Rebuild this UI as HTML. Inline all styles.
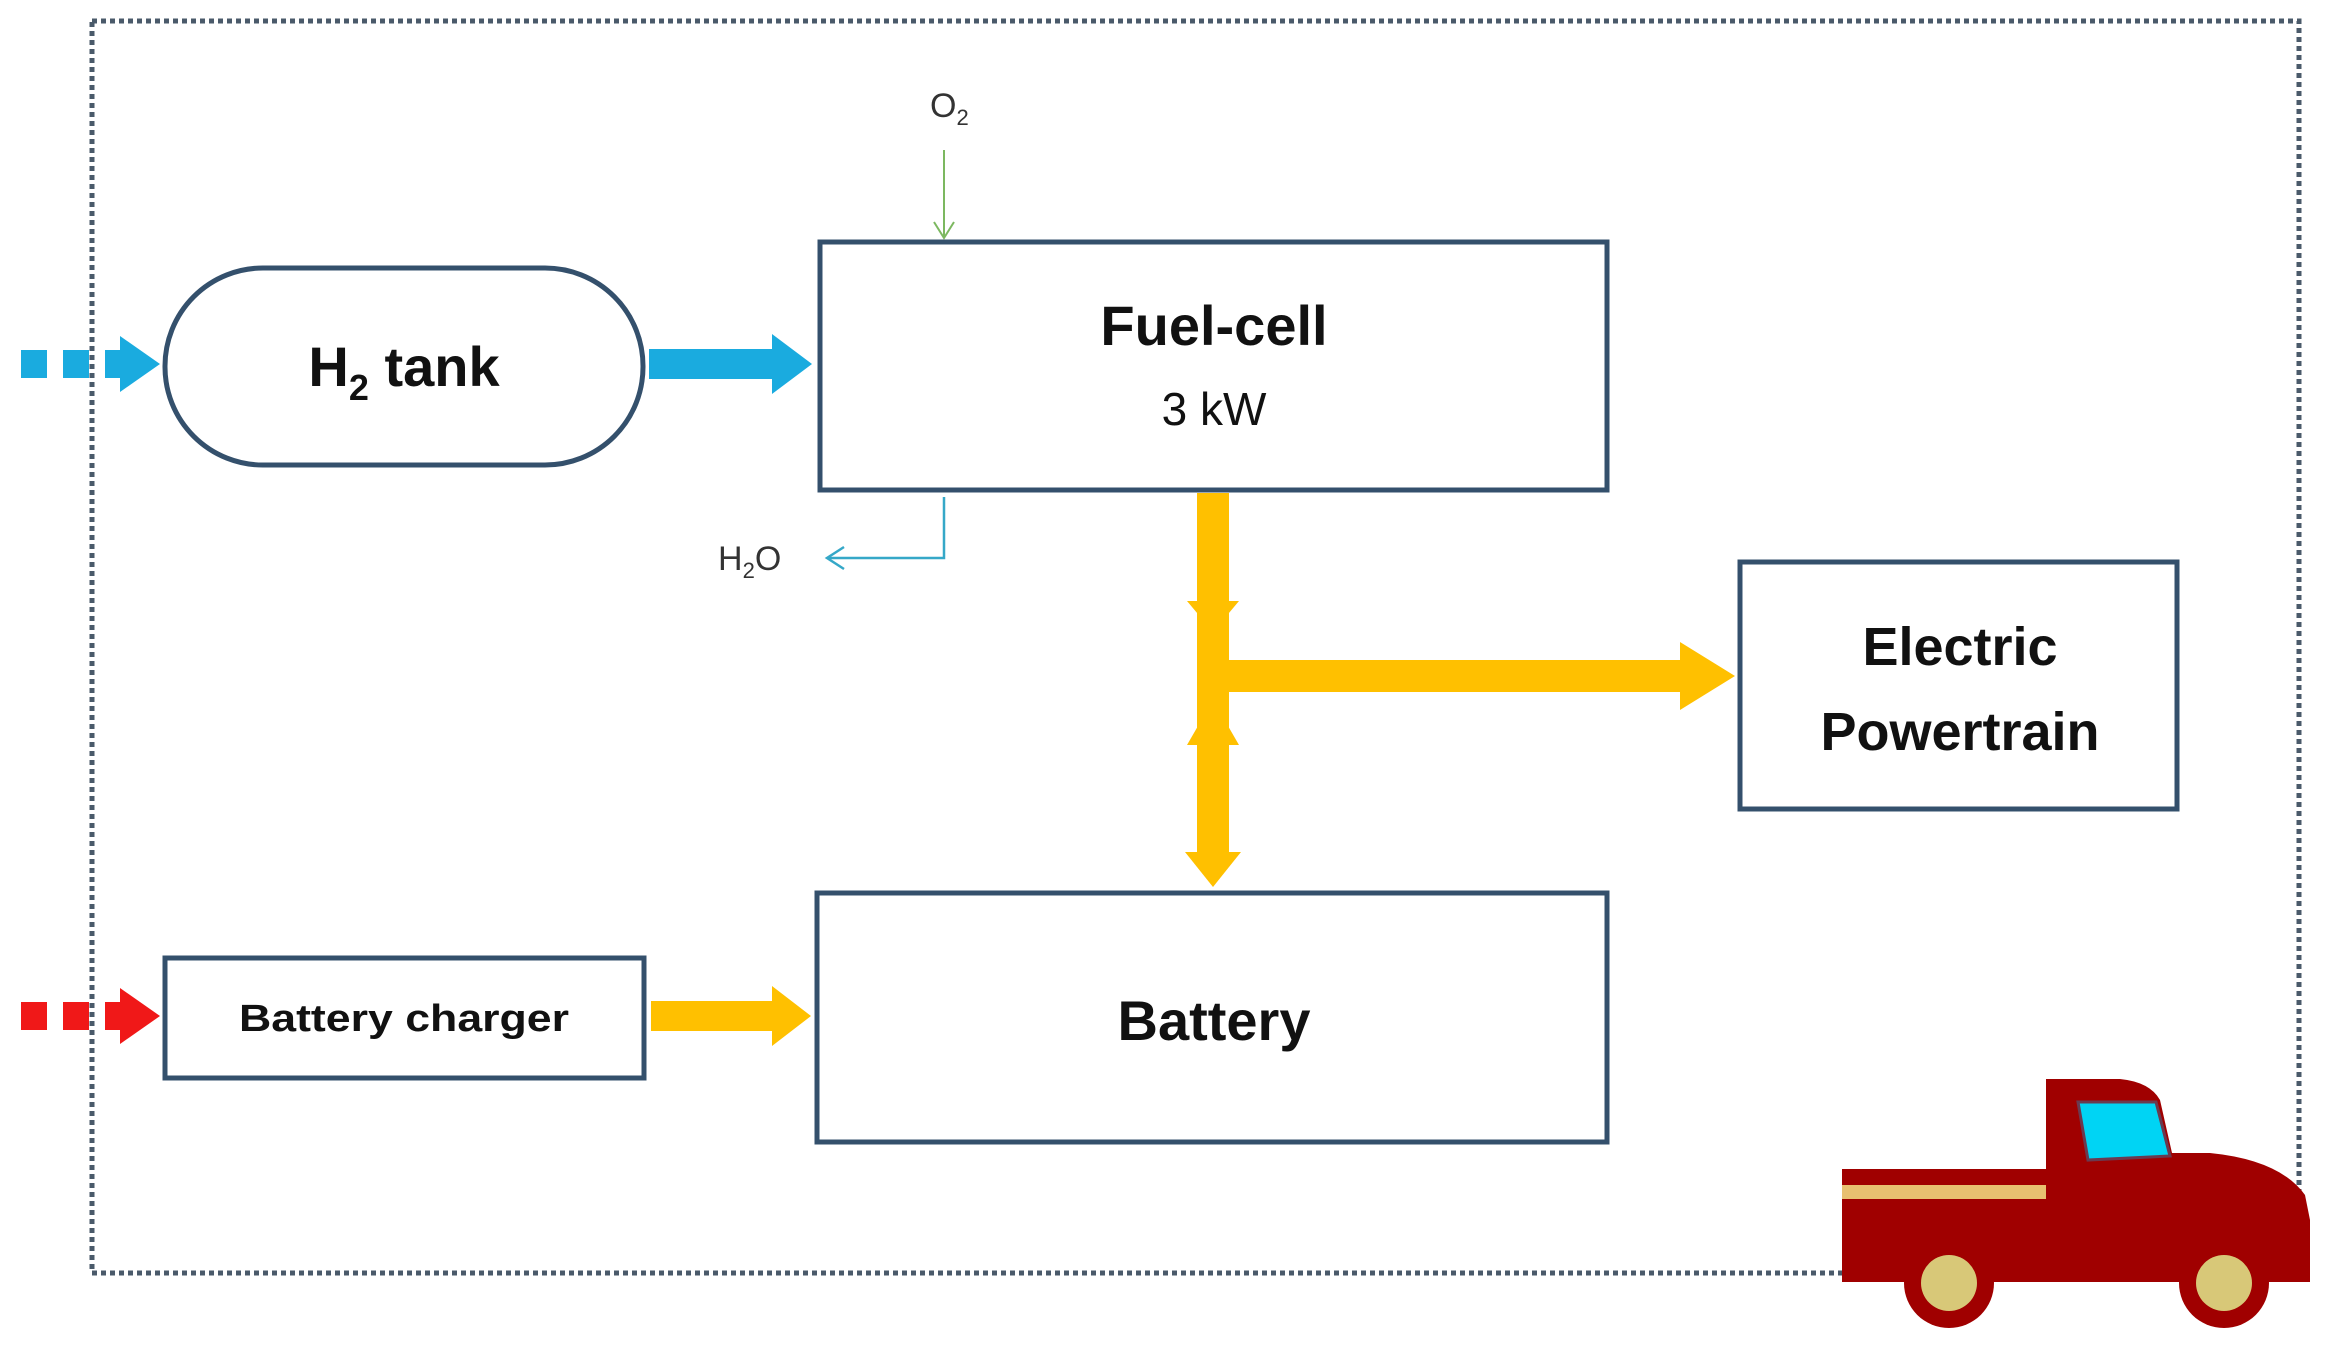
<!DOCTYPE html>
<html><head><meta charset="utf-8"><style>
html,body{margin:0;padding:0;background:#fff;}
svg{display:block;}
text{font-family:"Liberation Sans",sans-serif;}
</style></head><body>
<svg width="2328" height="1348" viewBox="0 0 2328 1348" xmlns="http://www.w3.org/2000/svg">
<!-- dotted border -->
<rect x="92" y="21" width="2207" height="1252" fill="none" stroke="#4a5a6a" stroke-width="5" stroke-dasharray="5 4"/>

<!-- H2 tank -->
<rect x="165" y="268" width="478" height="197" rx="98" ry="98" fill="#fff" stroke="#34506c" stroke-width="5"/>
<text x="404" y="386" font-size="56" font-weight="bold" text-anchor="middle" fill="#111">H<tspan font-size="36" dy="14">2</tspan><tspan dy="-14"> tank</tspan></text>

<!-- Fuel cell -->
<rect x="820" y="242" width="787" height="248" fill="#fff" stroke="#34506c" stroke-width="5"/>
<text x="1214" y="345" font-size="56" font-weight="bold" text-anchor="middle" fill="#111">Fuel-cell</text>
<text x="1214" y="425" font-size="46" text-anchor="middle" fill="#111">3 kW</text>

<!-- Electric Powertrain -->
<rect x="1740" y="562" width="437" height="247" fill="#fff" stroke="#34506c" stroke-width="5"/>
<text x="1960" y="665" font-size="54" font-weight="bold" text-anchor="middle" fill="#111">Electric</text>
<text x="1960" y="750" font-size="54" font-weight="bold" text-anchor="middle" fill="#111">Powertrain</text>

<!-- Battery -->
<rect x="817" y="893" width="790" height="249" fill="#fff" stroke="#34506c" stroke-width="5"/>
<text x="1214" y="1040" font-size="56" font-weight="bold" text-anchor="middle" fill="#111">Battery</text>

<!-- Battery charger -->
<rect x="165" y="958" width="479" height="120" fill="#fff" stroke="#34506c" stroke-width="5"/>
<text x="404" y="1031" font-size="38" text-anchor="middle" fill="#111" font-weight="bold" textLength="330" lengthAdjust="spacingAndGlyphs">Battery charger</text>

<!-- Blue arrow H2 -> FC -->
<polygon points="649,349 772,349 772,334 812,364 772,394 772,379 649,379" fill="#1aabdf"/>
<!-- blue dotted input -->
<rect x="21" y="350" width="26" height="28" fill="#1aabdf"/>
<rect x="63" y="350" width="26" height="28" fill="#1aabdf"/>
<polygon points="105,350 120,350 120,336 160,364 120,392 120,378 105,378" fill="#1aabdf"/>

<!-- red dotted input -->
<rect x="21" y="1002" width="26" height="28" fill="#f01818"/>
<rect x="63" y="1002" width="26" height="28" fill="#f01818"/>
<polygon points="105,1002 120,1002 120,988 160,1016 120,1044 120,1030 105,1030" fill="#f01818"/>

<!-- yellow charger -> battery -->
<polygon points="651,1001 772,1001 772,986 811,1016 772,1046 772,1031 651,1031" fill="#ffc000"/>

<!-- O2 -->
<text x="930" y="117" font-size="34" fill="#333">O<tspan font-size="22" dy="8">2</tspan></text>
<line x1="944" y1="150" x2="944" y2="236" stroke="#7cb860" stroke-width="2"/>
<polyline points="934,222 944,238 954,222" fill="none" stroke="#7cb860" stroke-width="2"/>

<!-- H2O -->
<polyline points="944,497 944,558 828,558" fill="none" stroke="#35a8c8" stroke-width="2.5"/>
<polyline points="844,547 827,558 844,569" fill="none" stroke="#35a8c8" stroke-width="2.5"/>
<text x="718" y="570" font-size="34" fill="#333">H<tspan font-size="22" dy="8">2</tspan><tspan dy="-8">O</tspan></text>

<!-- yellow vertical bus -->
<rect x="1197" y="493" width="32" height="365" fill="#ffc000"/>
<polygon points="1187,601 1239,601 1213,632" fill="#ffc000"/>
<polygon points="1187,745 1239,745 1213,700" fill="#ffc000"/>
<polygon points="1185,852 1241,852 1213,887" fill="#ffc000"/>
<!-- horizontal to powertrain -->
<polygon points="1229,660 1680,660 1680,642 1735,676 1680,710 1680,692 1229,692" fill="#ffc000"/>

<!-- truck -->
<g>
<path d="M1842,1169 L2046,1169 L2046,1079 L2120,1079 Q2150,1082 2160,1100 L2172,1153 L2210,1153 Q2280,1160 2305,1195 L2310,1220 L2310,1282 L1842,1282 Z" fill="#a00000"/>
<polygon points="2078,1102 2156,1102 2170,1156 2088,1160" fill="#00d4f4" stroke="#6a3a50" stroke-width="3"/>
<rect x="1842" y="1185" width="204" height="14" fill="#e8c070"/>
<circle cx="1949" cy="1283" r="45" fill="#a00000"/>
<circle cx="1949" cy="1283" r="28" fill="#d8c878"/>
<circle cx="2224" cy="1283" r="45" fill="#a00000"/>
<circle cx="2224" cy="1283" r="28" fill="#d8c878"/>
</g>
</svg>
</body></html>
